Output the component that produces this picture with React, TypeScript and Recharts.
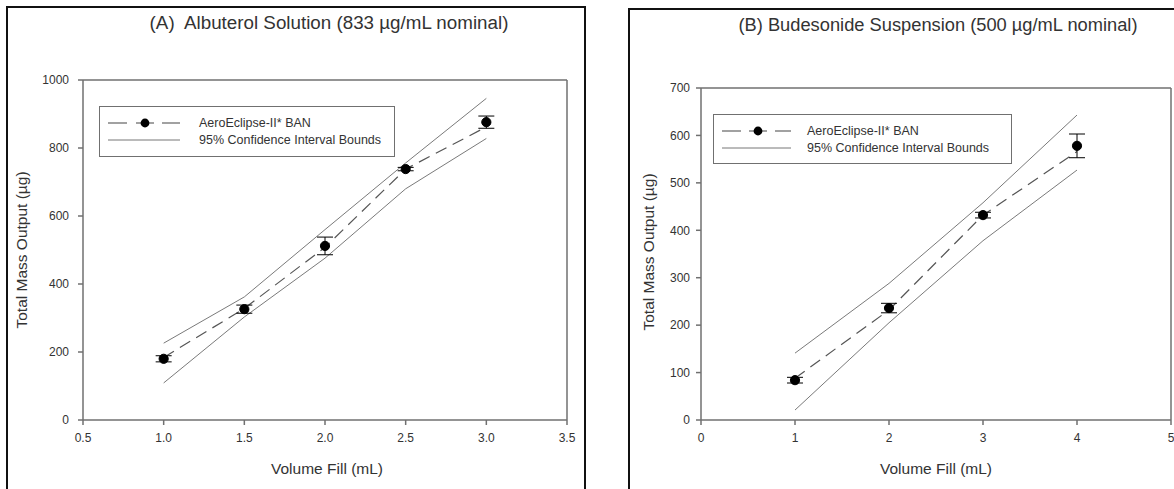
import React from 'react';
import { ComposedChart, Line, XAxis, YAxis, ErrorBar, ReferenceLine, Label } from 'recharts';

// ---------- Data ----------
const volumeA = [1.0, 1.5, 2.0, 2.5, 3.0];
const meanA = [180, 326, 512, 738, 876];
const errA = [9, 12, 26, 5, 18];
const fitA = [184, 328, 508, 738, 862];
const upperA = [226, 362, 560, 756, 946];
const lowerA = [109, 303, 476, 680, 828];
const xTicksA = [0.5, 1.0, 1.5, 2.0, 2.5, 3.0, 3.5];
const yTicksA = [0, 200, 400, 600, 800, 1000];

const volumeB = [1, 2, 3, 4];
const meanB = [84, 236, 432, 578];
const errB = [6, 10, 6, 25];
const fitB = [88, 232, 432, 566];
const upperB = [141, 288, 458, 643];
const lowerB = [21, 205, 378, 527];
const xTicksB = [0, 1, 2, 3, 4, 5];
const yTicksB = [0, 100, 200, 300, 400, 500, 600, 700];

const titleA = '(A)  Albuterol Solution (833 µg/mL nominal)';
const titleB = '(B) Budesonide Suspension (500 µg/mL nominal)';
const seriesName = 'AeroEclipse-II* BAN';
const ciName = '95% Confidence Interval Bounds';
const xTitle = 'Volume Fill (mL)';
const yTitle = 'Total Mass Output (µg)';

const FONT = '"Liberation Sans", Arial, Helvetica, sans-serif';
const TEXT = '#333333';
const AXIS = '#707070';

function build(xs: number[], mean: number[], err: number[], fit: number[], up: number[], lo: number[]) {
  return xs.map((x, i) => ({ x, mean: mean[i], err: err[i], fit: fit[i], upper: up[i], lower: lo[i] }));
}

const dataA = build(volumeA, meanA, errA, fitA, upperA, lowerA);
const dataB = build(volumeB, meanB, errB, fitB, upperB, lowerB);

const Dot = (props: any) => {
  const { cx, cy } = props;
  if (cx == null || cy == null) return null;
  return <circle cx={cx} cy={cy} r={4.6} fill="#000" stroke="#000" />;
};

function LegendBox({ left, top, width, height, textX, sampleEnd, dotX }: any) {
  return (
    <div style={{ position: 'absolute', left, top, width, height, border: `1px solid ${AXIS}`, boxSizing: 'border-box', background: '#fff' }}>
      <svg width={width} height={height} style={{ position: 'absolute', left: -1, top: -1 }}>
        <g stroke="#555" strokeWidth={1.1}>
          <line x1={9} y1={17} x2={28} y2={17} />
          <line x1={dotX - 9} y1={17} x2={dotX + 9} y2={17} />
          <line x1={dotX + 17} y1={17} x2={sampleEnd} y2={17} />
        </g>
        <circle cx={dotX} cy={17} r={4.4} fill="#000" />
        <line x1={9} y1={34} x2={sampleEnd} y2={34} stroke="#777" strokeWidth={1} />
        <text x={textX} y={17} dominantBaseline="central" fontFamily={FONT} fontSize={12.5} fill={TEXT}>{seriesName}</text>
        <text x={textX} y={34} dominantBaseline="central" fontFamily={FONT} fontSize={12.5} fill={TEXT}>{ciName}</text>
      </svg>
    </div>
  );
}

function Panel({ data, xDomain, xTicks, yDomain, yTicks, width, height, margin, yAxisWidth, tickMarginY, fmt, xTitleX, yTitleX, yTitleY }: any) {
  return (
    <ComposedChart width={width} height={height} data={data} margin={margin}>
      <XAxis
        type="number"
        dataKey="x"
        domain={xDomain}
        ticks={xTicks}
        interval={0}
        allowDataOverflow
        tickFormatter={fmt}
        height={30}
        tickSize={5}
        tickMargin={8}
        stroke={AXIS}
        strokeWidth={1.5}
        tick={{ fill: TEXT, fontSize: 12, fontFamily: FONT }}
      >
        <Label
          content={() => (
            <text x={xTitleX} y={468} textAnchor="middle" dominantBaseline="central" fontFamily={FONT} fontSize={15.5} fill={TEXT}>
              {xTitle}
            </text>
          )}
        />
      </XAxis>
      <YAxis
        type="number"
        domain={yDomain}
        ticks={yTicks}
        interval={0}
        allowDataOverflow
        width={yAxisWidth}
        tickSize={5}
        tickMargin={tickMarginY}
        stroke={AXIS}
        strokeWidth={1.5}
        tick={{ fill: TEXT, fontSize: 12, fontFamily: FONT }}
      >
        <Label
          content={() => (
            <text
              x={yTitleX}
              y={yTitleY}
              transform={`rotate(-90 ${yTitleX} ${yTitleY})`}
              textAnchor="middle"
              dominantBaseline="central"
              fontFamily={FONT}
              fontSize={15.5}
              fill={TEXT}
            >
              {yTitle}
            </text>
          )}
        />
      </YAxis>
      <ReferenceLine y={yDomain[1]} stroke={AXIS} strokeWidth={1.5} />
      <ReferenceLine x={xDomain[1]} stroke={AXIS} strokeWidth={1.5} />
      <Line dataKey="upper" stroke="#7a7a7a" strokeWidth={1} dot={false} isAnimationActive={false} />
      <Line dataKey="lower" stroke="#7a7a7a" strokeWidth={1} dot={false} isAnimationActive={false} />
      <Line dataKey="fit" stroke="#555" strokeWidth={1.2} strokeDasharray="12 7" dot={false} isAnimationActive={false} />
      <Line dataKey="mean" stroke="none" dot={<Dot />} activeDot={false} isAnimationActive={false}>
        <ErrorBar dataKey="err" width={8} stroke="#000" strokeWidth={1} direction="y" />
      </Line>
    </ComposedChart>
  );
}

export default function App() {
  return (
    <div style={{ position: 'absolute', left: 0, top: 0, width: 1174, height: 489, background: '#fff', overflow: 'hidden', fontFamily: FONT }}>
      {/* panel frames */}
      <div style={{ position: 'absolute', left: 6, top: 6, width: 580, height: 500, borderLeft: '2px solid #111', borderTop: '2px solid #111', borderRight: '2px solid #111', boxSizing: 'border-box' }} />
      <div style={{ position: 'absolute', left: 628, top: 8, width: 600, height: 500, borderLeft: '2px solid #111', borderTop: '2px solid #111', boxSizing: 'border-box' }} />

      <div style={{ position: 'absolute', left: 0, top: 0 }}>
        <Panel
          data={dataA}
          xDomain={[0.5, 3.5]}
          xTicks={xTicksA}
          yDomain={[0, 1000]}
          yTicks={yTicksA}
          width={590}
          height={489}
          margin={{ top: 80, right: 23, bottom: 39, left: 0 }}
          yAxisWidth={83}
          tickMarginY={9}
          fmt={(v: number) => v.toFixed(1)}
          xTitleX={327}
          yTitleX={21}
          yTitleY={250}
        />
      </div>
      <div style={{ position: 'absolute', left: 590, top: 0 }}>
        <Panel
          data={dataB}
          xDomain={[0, 5]}
          xTicks={xTicksB}
          yDomain={[0, 700]}
          yTicks={yTicksB}
          width={600}
          height={489}
          margin={{ top: 88, right: 19, bottom: 39, left: 0 }}
          yAxisWidth={111}
          tickMarginY={6}
          fmt={(v: number) => String(v)}
          xTitleX={346}
          yTitleX={58}
          yTitleY={252}
        />
      </div>

      <div style={{ position: 'absolute', left: 0, width: 658, top: 12, textAlign: 'center', fontSize: 18.8, color: TEXT, whiteSpace: 'pre' }}>{titleA}</div>
      <div style={{ position: 'absolute', left: 738, width: 400, top: 14, textAlign: 'center', fontSize: 18.3, color: TEXT, whiteSpace: 'pre' }}>{titleB}</div>

      <LegendBox left={99} top={106} width={296} height={51} textX={100} sampleEnd={81} dotX={46} />
      <LegendBox left={713} top={114} width={299} height={50} textX={94} sampleEnd={78} dotX={45} />
    </div>
  );
}
